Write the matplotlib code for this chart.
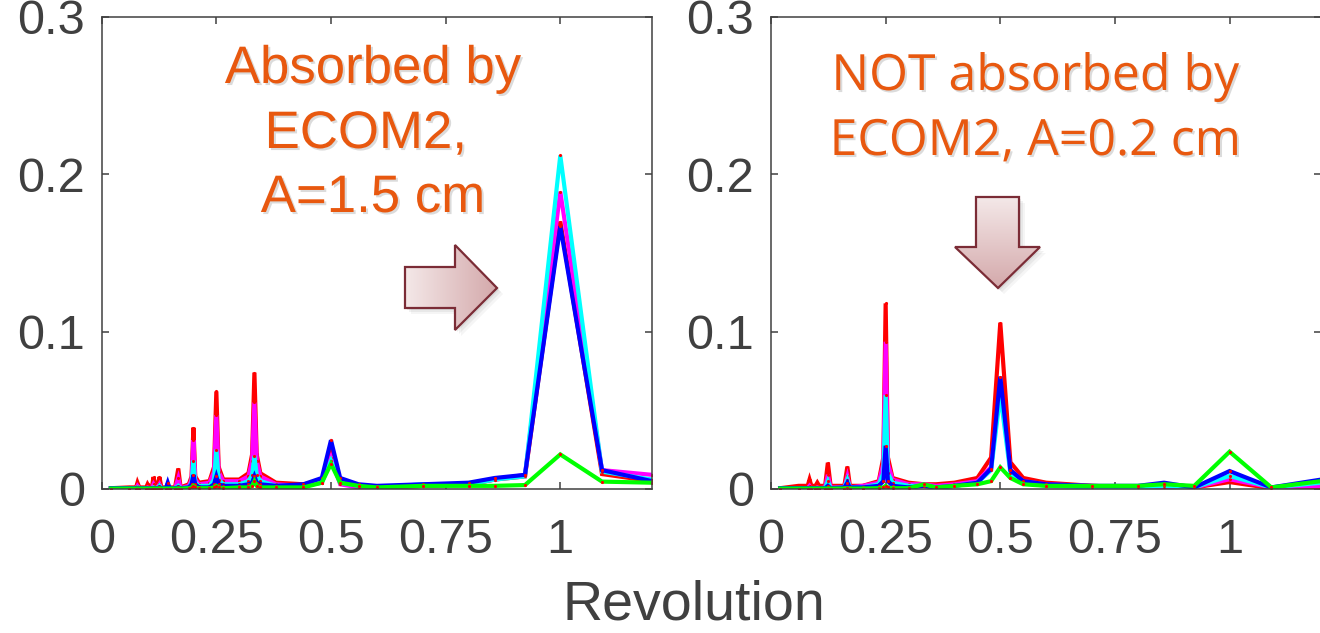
import matplotlib
matplotlib.use('Agg')
import matplotlib.pyplot as plt
import matplotlib.patheffects as pe
from matplotlib.patches import Polygon
from matplotlib.colors import LinearSegmentedColormap
import numpy as np

plt.rcParams['font.family'] = ['Liberation Sans', 'DejaVu Sans']

# frequency in cycles per revolution, left panel (A = 1.5 cm)
x_left = [0.02, 0.06, 0.075, 0.078, 0.082, 0.097, 0.10, 0.104, 0.11, 0.113,
          0.117, 0.122, 0.126, 0.13, 0.14, 0.144, 0.148, 0.16, 0.167, 0.172,
          0.19, 0.196, 0.2, 0.204, 0.212, 0.235, 0.245, 0.25, 0.255, 0.265,
          0.30, 0.32, 0.328, 0.333, 0.338, 0.346, 0.38, 0.44, 0.48, 0.5,
          0.52, 0.56, 0.6, 0.7, 0.8, 0.857, 0.923, 1.0, 1.091, 1.2]
red_left = [0.0005, 0.001, 0.001, 0.004, 0.001, 0.001, 0.003, 0.001, 0.002, 0.0076,
            0.002, 0.002, 0.0076, 0.001, 0.001, 0.002, 0.001, 0.001, 0.013, 0.001,
            0.003, 0.008, 0.039, 0.008, 0.004, 0.005, 0.014, 0.062, 0.014, 0.006,
            0.006, 0.010, 0.022, 0.074, 0.022, 0.010, 0.004, 0.003, 0.005, 0.027,
            0.005, 0.002, 0.001, 0.002, 0.003, 0.006, 0.008, 0.170, 0.0095, 0.005]
magenta_left = [0.0005, 0.0005, 0.0005, 0.002, 0.0005, 0.0005, 0.001, 0.0005, 0.001, 0.003,
                0.001, 0.001, 0.003, 0.0005, 0.0005, 0.001, 0.0005, 0.0005, 0.007, 0.0005,
                0.002, 0.006, 0.031, 0.006, 0.003, 0.004, 0.011, 0.047, 0.011, 0.005,
                0.005, 0.008, 0.018, 0.055, 0.018, 0.008, 0.003, 0.002, 0.004, 0.020,
                0.003, 0.001, 0.001, 0.002, 0.003, 0.006, 0.009, 0.189, 0.012, 0.009]
cyan_left = [0.0005, 0.0005, 0.0005, 0.001, 0.0005, 0.0005, 0.0005, 0.0005, 0.0005, 0.001,
             0.0005, 0.0005, 0.002, 0.0005, 0.0005, 0.003, 0.0005, 0.0005, 0.002, 0.0005,
             0.001, 0.004, 0.018, 0.004, 0.002, 0.002, 0.006, 0.025, 0.006, 0.003,
             0.003, 0.005, 0.009, 0.021, 0.009, 0.005, 0.002, 0.002, 0.004, 0.018,
             0.004, 0.002, 0.001, 0.003, 0.003, 0.006, 0.008, 0.212, 0.011, 0.006]
blue_left = [0.0005, 0.0005, 0.0005, 0.0005, 0.0005, 0.0005, 0.0005, 0.0005, 0.0005, 0.0005,
             0.0005, 0.0005, 0.001, 0.0005, 0.0005, 0.004, 0.0005, 0.0005, 0.001, 0.0005,
             0.001, 0.003, 0.009, 0.003, 0.001, 0.001, 0.003, 0.008, 0.003, 0.002,
             0.002, 0.003, 0.004, 0.008, 0.004, 0.003, 0.002, 0.003, 0.007, 0.031,
             0.007, 0.003, 0.002, 0.003, 0.004, 0.007, 0.009, 0.167, 0.012, 0.005]
green_left = [0.0003, 0.0003, 0.0003, 0.0003, 0.0003, 0.0003, 0.0003, 0.0003, 0.0003, 0.0003,
              0.0003, 0.0003, 0.0003, 0.0003, 0.0003, 0.0003, 0.0003, 0.0003, 0.0003, 0.0003,
              0.0005, 0.001, 0.002, 0.001, 0.0005, 0.0005, 0.001, 0.002, 0.001, 0.0005,
              0.001, 0.001, 0.002, 0.005, 0.002, 0.001, 0.001, 0.001, 0.004, 0.016,
              0.004, 0.002, 0.001, 0.002, 0.002, 0.002, 0.0025, 0.022, 0.0047, 0.004]

# right panel (A = 0.2 cm)
x_right = [0.02, 0.06, 0.08, 0.084, 0.088, 0.097, 0.101, 0.105, 0.118, 0.124,
           0.13, 0.16, 0.1665, 0.172, 0.2, 0.235, 0.245, 0.25, 0.255, 0.265,
           0.30, 0.333, 0.36, 0.40, 0.45, 0.48, 0.5, 0.522, 0.55, 0.6,
           0.7, 0.8, 0.857, 0.923, 1.0, 1.091, 1.2]
red_right = [0.0005, 0.002, 0.002, 0.006, 0.002, 0.002, 0.004, 0.002, 0.002, 0.0167,
             0.002, 0.002, 0.0142, 0.002, 0.002, 0.005, 0.020, 0.118, 0.020, 0.007,
             0.004, 0.003, 0.003, 0.004, 0.007, 0.020, 0.1057, 0.017, 0.007, 0.004,
             0.002, 0.001, 0.001, 0.001, 0.0044, 0.0005, 0.001]
magenta_right = [0.0005, 0.0005, 0.0005, 0.002, 0.0005, 0.0005, 0.001, 0.0005, 0.001, 0.009,
                 0.001, 0.001, 0.008, 0.001, 0.002, 0.004, 0.016, 0.0936, 0.016, 0.006,
                 0.003, 0.003, 0.002, 0.003, 0.005, 0.014, 0.065, 0.012, 0.005, 0.003,
                 0.002, 0.001, 0.001, 0.001, 0.0062, 0.001, 0.002]
cyan_right = [0.0005, 0.0005, 0.0005, 0.0005, 0.0005, 0.0005, 0.0005, 0.0005, 0.0005, 0.005,
              0.0005, 0.001, 0.006, 0.001, 0.001, 0.003, 0.010, 0.0597, 0.010, 0.004,
              0.002, 0.002, 0.001, 0.002, 0.004, 0.012, 0.060, 0.010, 0.004, 0.002,
              0.001, 0.001, 0.002, 0.001, 0.0083, 0.001, 0.004]
blue_right = [0.0005, 0.0005, 0.0005, 0.0005, 0.0005, 0.0005, 0.0005, 0.0005, 0.0005, 0.002,
              0.0005, 0.001, 0.004, 0.001, 0.001, 0.002, 0.005, 0.0275, 0.005, 0.002,
              0.001, 0.002, 0.001, 0.002, 0.004, 0.013, 0.0714, 0.012, 0.005, 0.003,
              0.002, 0.002, 0.004, 0.001, 0.0114, 0.001, 0.006]
green_right = [0.0003, 0.0003, 0.0003, 0.0003, 0.0003, 0.0003, 0.0003, 0.0003, 0.0003, 0.0003,
               0.0003, 0.0003, 0.0005, 0.0003, 0.0003, 0.0005, 0.001, 0.002, 0.001, 0.0005,
               0.0005, 0.003, 0.001, 0.002, 0.003, 0.005, 0.0138, 0.007, 0.003, 0.002,
               0.002, 0.002, 0.003, 0.002, 0.0237, 0.001, 0.005]

line_colors = ['#ff0000', '#ff00ff', '#00ffff', '#0000ff', '#00ff00']
x_ticks = [0, 0.25, 0.5, 0.75, 1]
x_ticklabels = ['0', '0.25', '0.5', '0.75', '1']
y_ticks = [0, 0.1, 0.2, 0.3]
y_ticklabels = ['0', '0.1', '0.2', '0.3']

GREY = '#404040'
ORANGE = '#E8580F'

fig = plt.figure(figsize=(13.2, 6.33), dpi=100)
ax_l = fig.add_axes([101.7 / 1320, 144 / 633, 550.3 / 1320, 472 / 633])
ax_r = fig.add_axes([771 / 1320, 144 / 633, 550.3 / 1320, 472 / 633])

panels = [
    (ax_l, x_left, [red_left, magenta_left, cyan_left, blue_left, green_left]),
    (ax_r, x_right, [red_right, magenta_right, cyan_right, blue_right, green_right]),
]
for ax, xs, series in panels:
    for ys, c in zip(series, line_colors):
        ax.plot(xs, ys, color=c, lw=3.0, solid_joinstyle='miter',
                marker='.', ms=2.5, mfc='#ff0000', mec='#ff0000')
    ax.set_xlim(0, 1.2)
    ax.set_ylim(0, 0.3)
    ax.set_xticks(x_ticks)
    ax.set_xticklabels(x_ticklabels)
    ax.set_yticks(y_ticks)
    ax.set_yticklabels(y_ticklabels)
    ax.tick_params(direction='in', length=5, width=1.1, colors=GREY,
                   labelsize=35, top=True, right=True)
    ax.tick_params(axis='x', pad=21)
    ax.tick_params(axis='y', pad=12)
    for s in ax.spines.values():
        s.set_color(GREY)
        s.set_linewidth(1.1)

fig.text(694 / 1320, 1 / 633, 'Revolution', ha='center', va='bottom',
         fontsize=40, color=GREY)

# overlay in pixel coordinates for the annotations
ov = fig.add_axes([0, 0, 1, 1], zorder=5)
ov.set_xlim(0, 1320)
ov.set_ylim(633, 0)
ov.axis('off')
ov.patch.set_alpha(0)

shadow = [pe.withSimplePatchShadow(offset=(1.5, -1.5), shadow_rgbFace='#999999', alpha=0.35)]
for txt, yb in zip(['Absorbed by', 'ECOM2, ', 'A=1.5 cm'], [83, 148, 212]):
    ov.text(373, yb, txt, ha='center', va='baseline', fontsize=38, color=ORANGE,
            family=['Liberation Sans', 'DejaVu Sans'], path_effects=shadow)
for txt, yb in zip(['NOT absorbed by', 'ECOM2, A=0.2 cm'], [90, 155]):
    ov.text(1035, yb, txt, ha='center', va='baseline', fontsize=36, color=ORANGE,
            family=['Open Sans', 'DejaVu Sans'], path_effects=shadow)

arrow_cmap = LinearSegmentedColormap.from_list('arr', ['#f4e8e8', '#d4a9ab'])


def block_arrow(verts, vertical):
    xs = [v[0] for v in verts]
    ys = [v[1] for v in verts]
    for off, a in [(6, 0.06), (4, 0.08), (2, 0.1)]:
        ov.add_patch(Polygon([(x + off, y + off) for x, y in verts], closed=True,
                             fc='#555555', ec='none', alpha=a))
    poly = Polygon(verts, closed=True, fc='none', ec='#7b2c36', lw=1.6, zorder=3)
    ov.add_patch(poly)
    grad = np.linspace(0, 1, 100)
    grad = grad[:, None] if vertical else grad[None, :]
    im = ov.imshow(grad, cmap=arrow_cmap, aspect='auto', origin='upper',
                   extent=(min(xs), max(xs), max(ys), min(ys)), zorder=2)
    im.set_clip_path(poly)


block_arrow([(405, 267), (455, 267), (455, 245), (497, 288), (455, 330), (455, 308), (405, 308)], False)
block_arrow([(976, 197), (1019, 197), (1019, 247), (1040, 247), (998, 288), (955, 247), (976, 247)], True)
ov.set_xlim(0, 1320)
ov.set_ylim(633, 0)

fig.savefig('out.png', dpi=100)
